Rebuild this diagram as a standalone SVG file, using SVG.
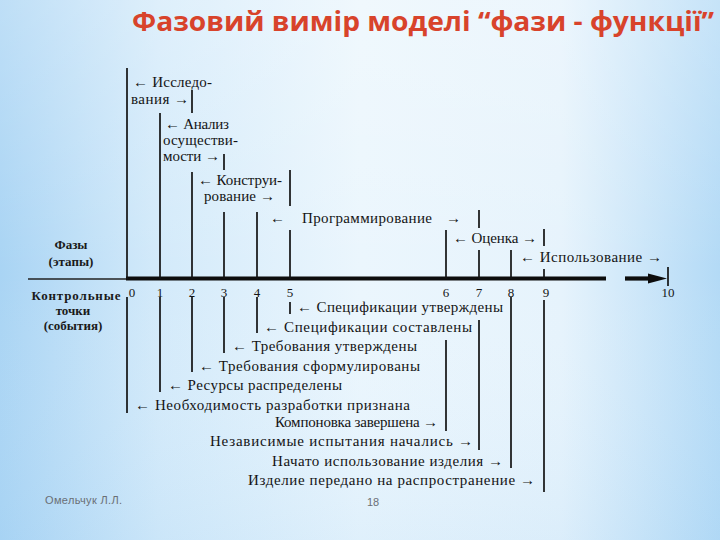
<svg xmlns="http://www.w3.org/2000/svg" width="720" height="540" viewBox="0 0 720 540">
  <defs>
    <linearGradient id="bg" x1="0" y1="0" x2="1" y2="0">
      <stop offset="0" stop-color="#a9d4f4"/>
      <stop offset="0.22" stop-color="#d3eafa"/>
      <stop offset="0.5" stop-color="#ebf6fd"/>
      <stop offset="0.78" stop-color="#e6f3fc"/>
      <stop offset="1" stop-color="#b3daf6"/>
    </linearGradient>
    <linearGradient id="bgv" x1="0" y1="0" x2="0" y2="1">
      <stop offset="0" stop-color="#ffffff" stop-opacity="0.25"/>
      <stop offset="0.5" stop-color="#ffffff" stop-opacity="0"/>
      <stop offset="1" stop-color="#9ccdf2" stop-opacity="0.15"/>
    </linearGradient>
    <style>
      .t { font-family: "Liberation Serif", "DejaVu Serif", serif; font-size: 15px; fill: #141414; }
      .b { font-family: "Liberation Serif", "DejaVu Serif", serif; font-size: 13px; font-weight: bold; fill: #1a1a1a; text-anchor: middle; }
      .n { font-family: "Liberation Serif", "DejaVu Serif", serif; font-size: 13px; fill: #161616; text-anchor: middle; }
      .v { stroke: #121212; stroke-width: 1.7; fill: none; }
      .title { font-family: "Open Sans", "Liberation Sans", sans-serif; font-size: 26px; font-weight: bold; fill: #d8432b; }
      .foot { font-family: "Liberation Sans", "DejaVu Sans", sans-serif; font-size: 11px; fill: #6a6f75; }
    </style>
  </defs>

  <rect x="0" y="0" width="720" height="540" fill="url(#bg)"/>
  <rect x="0" y="0" width="720" height="540" fill="url(#bgv)"/>

  <g id="title">
    <text class="title" x="132" y="31" textLength="582" lengthAdjust="spacingAndGlyphs">Фазовий вимір моделі “фази - функції”</text>
  </g>

  <g id="connectors">
    <line x1="28" y1="279" x2="127" y2="279" stroke="#222" stroke-width="1.3"/>
    <line x1="126" y1="278.5" x2="606" y2="278.5" stroke="#0d0d0d" stroke-width="4.2"/>
    <line x1="625" y1="278.5" x2="656" y2="278.5" stroke="#0d0d0d" stroke-width="4.2"/>
    <path d="M648,273.5 L667,278.5 L648,283.5 z" fill="#0d0d0d"/>
    <line class="v" x1="668" y1="267" x2="668" y2="286"/>
    <line class="v" x1="127" y1="68" x2="127" y2="279"/>
    <line class="v" x1="160" y1="113" x2="160" y2="279"/>
    <line class="v" x1="192" y1="90" x2="192" y2="113"/>
    <line class="v" x1="192" y1="172" x2="192" y2="279"/>
    <line class="v" x1="224" y1="154" x2="224" y2="170"/>
    <line class="v" x1="224" y1="212" x2="224" y2="279"/>
    <line class="v" x1="257" y1="212" x2="257" y2="279"/>
    <line class="v" x1="290" y1="170" x2="290" y2="206"/>
    <line class="v" x1="290" y1="230" x2="290" y2="279"/>
    <line class="v" x1="446" y1="230" x2="446" y2="279"/>
    <line class="v" x1="479" y1="210" x2="479" y2="228"/>
    <line class="v" x1="479" y1="250" x2="479" y2="279"/>
    <line class="v" x1="511" y1="250" x2="511" y2="279"/>
    <line class="v" x1="544" y1="229" x2="544" y2="246"/>
    <line class="v" x1="544" y1="269" x2="544" y2="279"/>
    <line class="v" x1="127" y1="297" x2="127" y2="413"/>
    <line class="v" x1="160" y1="297" x2="160" y2="392"/>
    <line class="v" x1="192" y1="297" x2="192" y2="372"/>
    <line class="v" x1="224" y1="297" x2="224" y2="353"/>
    <line class="v" x1="257" y1="297" x2="257" y2="333"/>
    <line class="v" x1="290" y1="302" x2="290" y2="314"/>
    <line class="v" x1="446" y1="340" x2="446" y2="431"/>
    <line class="v" x1="479" y1="320" x2="479" y2="450"/>
    <line class="v" x1="511" y1="297" x2="511" y2="468"/>
    <line class="v" x1="544" y1="300" x2="544" y2="492"/>
  </g>

  <g id="axis-labels">
    <text class="b" x="71" y="249">Фазы</text>
    <text class="b" x="71" y="266">(этапы)</text>
    <text class="b" x="76" y="300" textLength="89">Контрольные</text>
    <text class="b" x="73" y="315">точки</text>
    <text class="b" x="73" y="330">(события)</text>
  </g>

  <g id="ticks">
    <text class="n" x="132" y="297">0</text>
    <text class="n" x="160" y="297">1</text>
    <text class="n" x="192" y="297">2</text>
    <text class="n" x="224" y="297">3</text>
    <text class="n" x="257" y="297">4</text>
    <text class="n" x="290" y="297">5</text>
    <text class="n" x="446" y="297">6</text>
    <text class="n" x="479" y="297">7</text>
    <text class="n" x="511" y="297">8</text>
    <text class="n" x="546" y="297">9</text>
    <text class="n" x="668" y="297">10</text>
  </g>

  <g id="phase-research">
    <text class="t" x="133" y="87" textLength="79">← Исследо-</text>
    <text class="t" x="131" y="104" textLength="58">вания →</text>
  </g>
  <g id="phase-feasibility">
    <text class="t" x="165" y="129" textLength="64">← Анализ</text>
    <text class="t" x="163" y="145" textLength="75">осуществи-</text>
    <text class="t" x="163" y="161" textLength="57">мости →</text>
  </g>
  <g id="phase-design">
    <text class="t" x="198" y="185" textLength="84">← Конструи-</text>
    <text class="t" x="204" y="201" textLength="71">рование →</text>
  </g>
  <g id="phase-programming">
    <text class="t" x="270" y="223">←</text>
    <text class="t" x="302" y="223" textLength="130">Программирование</text>
    <text class="t" x="446" y="223">→</text>
  </g>
  <g id="phase-evaluation">
    <text class="t" x="453" y="243" textLength="84">← Оценка →</text>
  </g>
  <g id="phase-use">
    <text class="t" x="520" y="262" textLength="142">← Использование →</text>
  </g>

  <g id="m-5"><text class="t" x="297" y="312" textLength="206">← Спецификации утверждены</text></g>
  <g id="m-4"><text class="t" x="264" y="332" textLength="208">← Спецификации составлены</text></g>
  <g id="m-3"><text class="t" x="232" y="351" textLength="185">← Требования утверждены</text></g>
  <g id="m-2"><text class="t" x="199" y="371" textLength="221">← Требования сформулированы</text></g>
  <g id="m-1"><text class="t" x="168" y="390" textLength="174">← Ресурсы распределены</text></g>
  <g id="m-0"><text class="t" x="135" y="410" textLength="275">← Необходимость разработки признана</text></g>
  <g id="m-6"><text class="t" x="275" y="427" textLength="163">Компоновка завершена →</text></g>
  <g id="m-7"><text class="t" x="210" y="446" textLength="263">Независимые испытания начались →</text></g>
  <g id="m-8"><text class="t" x="272" y="466" textLength="231">Начато использование изделия →</text></g>
  <g id="m-9"><text class="t" x="248" y="485" textLength="287">Изделие передано на распространение →</text></g>

  <g id="footer">
    <text class="foot" x="45" y="504" textLength="77">Омельчук Л.Л.</text>
    <text class="foot" x="373" y="506" text-anchor="middle">18</text>
  </g>
</svg>
